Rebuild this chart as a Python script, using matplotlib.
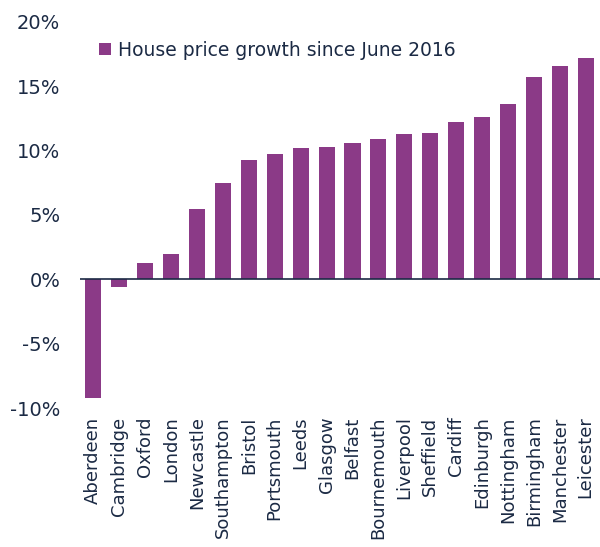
import numpy as np
import matplotlib.pyplot as plt
from matplotlib.ticker import FuncFormatter

cities = ['Aberdeen', 'Cambridge', 'Oxford', 'London', 'Newcastle', 'Southampton',
          'Bristol', 'Portsmouth', 'Leeds', 'Glasgow', 'Belfast', 'Bournemouth',
          'Liverpool', 'Sheffield', 'Cardiff', 'Edinburgh', 'Nottingham',
          'Birmingham', 'Manchester', 'Leicester']
growth = [-9.2, -0.6, 1.25, 1.95, 5.5, 7.5, 9.3, 9.7, 10.2, 10.3, 10.6, 10.9,
          11.3, 11.4, 12.2, 12.6, 13.6, 15.7, 16.6, 17.2]

purple = '#8B3A87'
navy = '#1B2A44'

plt.rcParams['font.family'] = ['DejaVu Sans']

fig = plt.figure(figsize=(6, 5.47), dpi=100)
ax = fig.add_axes([0.133, 0.254, 0.867, 0.706])

x = np.arange(len(cities))
ax.bar(x, growth, width=0.62, color=purple, label='House price growth since June 2016', zorder=2)
ax.axhline(0, color=navy, lw=1.2, zorder=3)

ax.set_xlim(-0.52, len(cities) - 0.45)
ax.set_ylim(-10, 20)
ax.set_yticks(range(-10, 21, 5))
ax.yaxis.set_major_formatter(FuncFormatter(lambda v, p: f'{v:.0f}%'))
ax.set_xticks(x)
ax.set_xticklabels(cities, rotation=90)
ax.tick_params(axis='x', length=0, labelsize=13, colors=navy, pad=6)
ax.tick_params(axis='y', length=0, labelsize=14, colors=navy, pad=14)
for s in ax.spines.values():
    s.set_visible(False)

leg = ax.legend(loc='upper left', bbox_to_anchor=(0.005, 0.995), frameon=False,
                fontsize=13.5, handlelength=0.65, handleheight=0.65, handletextpad=0.35)
for t in leg.get_texts():
    t.set_color(navy)

fig.savefig('out.png', dpi=100)
